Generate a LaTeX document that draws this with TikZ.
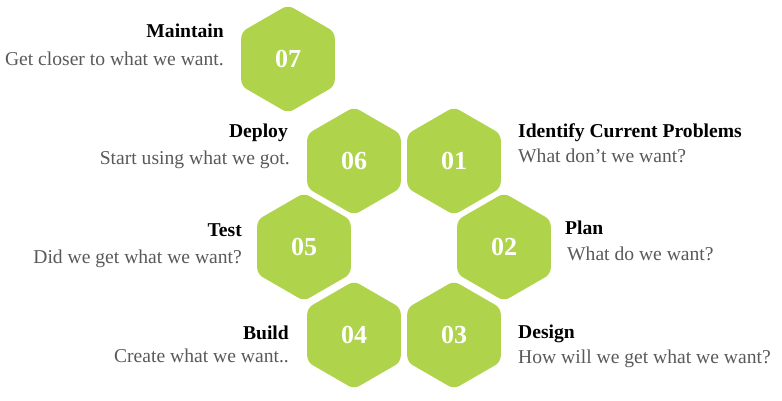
\documentclass[tikz,border=0pt]{standalone}
\usepackage{fontspec}
\setmainfont{Liberation Serif}
\usetikzlibrary{shapes.geometric}
\definecolor{hexgreen}{RGB}{176,211,76}
\definecolor{subgray}{RGB}{89,89,89}
\begin{document}
\begin{tikzpicture}[x=1pt,y=-1pt,
  hexcell/.style={regular polygon, regular polygon sides=6, shape border rotate=30,
    minimum size=108pt, inner sep=0pt, fill=hexgreen, rounded corners=6pt,
    text=white, font=\bfseries\fontsize{26}{26}\selectfont},
  headL/.style={anchor=base west, inner sep=0pt, font=\bfseries\fontsize{19.6}{20}\selectfont},
  headR/.style={anchor=base east, inner sep=0pt, font=\bfseries\fontsize{19.6}{20}\selectfont},
  noteL/.style={anchor=base west, inner sep=0pt, text=subgray, font=\fontsize{19.6}{20}\selectfont},
  noteR/.style={anchor=base east, inner sep=0pt, text=subgray, font=\fontsize{19.6}{20}\selectfont}]
\useasboundingbox (0,0) rectangle (782,400);

% hexagon cells
\node[hexcell] (h07) at (288,59) {07};
\node[hexcell] (h06) at (354,161) {06};
\node[hexcell] (h01) at (454,161) {01};
\node[hexcell] (h05) at (304,247) {05};
\node[hexcell] (h02) at (504,247) {02};
\node[hexcell] (h04) at (354,335) {04};
\node[hexcell] (h03) at (454,335) {03};

% left-hand captions
\node[headR] (t07) at (224,37) {Maintain};
\node[noteR] (s07) at (224,65) {Get closer to what we want.};
\node[headR] (t06) at (288,137) {Deploy};
\node[noteR] (s06) at (290,164) {Start using what we got.};
\node[headR] (t05) at (242,236) {Test};
\node[noteR] (s05) at (242,263) {Did we get what we want?};
\node[headR] (t04) at (289,339) {Build};
\node[noteR] (s04) at (289,362) {Create what we want..};

% right-hand captions
\node[headL] (t01) at (518,137) {Identify Current Problems};
\node[noteL] (s01) at (518,162) {What don’t we want?};
\node[headL] (t02) at (565,234) {Plan};
\node[noteL] (s02) at (567,260) {What do we want?};
\node[headL] (t03) at (518,338) {Design};
\node[noteL] (s03) at (518,363) {How will we get what we want?};
\end{tikzpicture}
\end{document}
